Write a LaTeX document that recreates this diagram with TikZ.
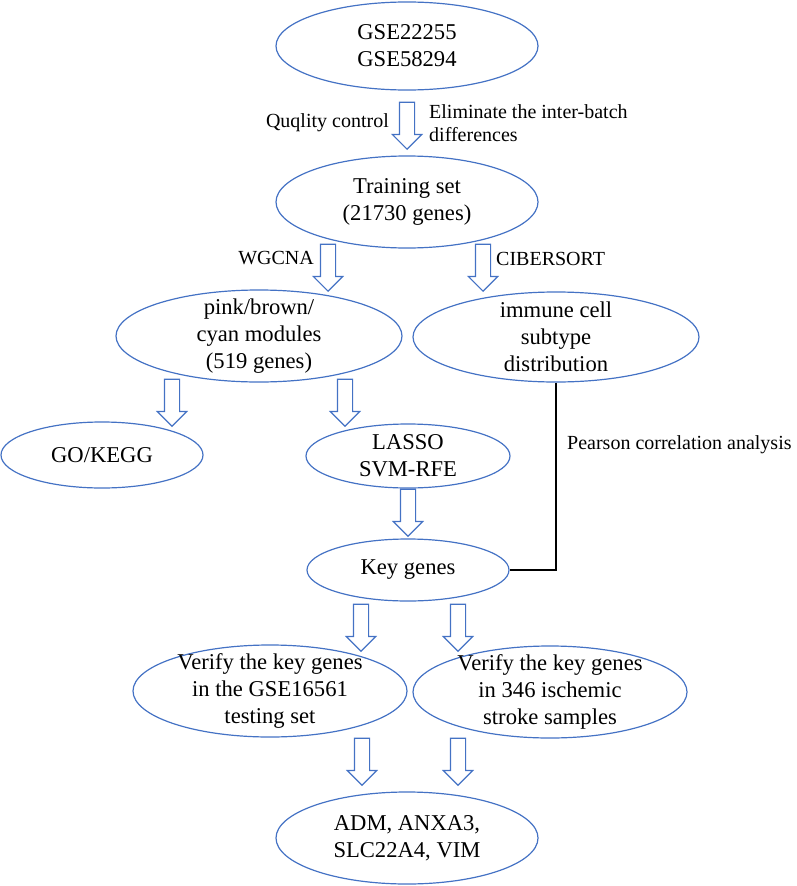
\documentclass[tikz,border=0pt]{standalone}
\usepackage{fontspec}
\setmainfont{Liberation Serif}
\usetikzlibrary{
	shapes.geometric,
	shapes.arrows
}
\definecolor{FlowBlue}{RGB}{68,114,196}

\tikzset{
	stage/.style={ellipse, draw=FlowBlue, line width=1.2pt, inner sep=-20pt, align=center,
		font=\fontsize{22.6pt}{27pt}\selectfont},
	downarrow/.style={single arrow, draw=FlowBlue, line width=1.2pt, rotate=-90, anchor=tip,
		minimum height=47pt, inner xsep=0pt, inner ysep=7pt, single arrow head extend=7pt},
	steplabel/.style={inner sep=0pt, font=\fontsize{20pt}{23pt}\selectfont}
}

\begin{document}
\begin{tikzpicture}[x=1pt, y=-1pt]
			\useasboundingbox (0,0) rectangle (796,886);
			% ellipses
			\node[stage, minimum width=262pt, minimum height=88pt] (gse) at (407,46) {GSE22255\\GSE58294};
			\node[stage, minimum width=262pt, minimum height=92pt] (train) at (407,202) {Training set\\(21730 genes)};
			\node[stage, minimum width=286pt, minimum height=92pt] (modules) at (259,336) {pink/brown/\\cyan modules\\(519 genes)};
			\node[stage, minimum width=286pt, minimum height=90pt] (immune) at (556,337) {immune cell\\subtype\\distribution};
			\node[stage, minimum width=202pt, minimum height=66pt] (gokegg) at (102,455) {GO/KEGG};
			\node[stage, minimum width=204pt, minimum height=64pt] (lasso) at (408,456) {LASSO\\SVM-RFE};
			\node[stage, minimum width=202pt, minimum height=62pt] (key) at (408,570) {Key genes};
			\node[stage, minimum width=274pt, minimum height=92pt] (vtest) at (270,691) {Verify the key genes\\in the GSE16561\\testing set};
			\node[stage, minimum width=274pt, minimum height=92pt] (vstroke) at (550,692) {Verify the key genes\\in 346 ischemic\\stroke samples};
			\node[stage, minimum width=262pt, minimum height=92pt] (final) at (407,838) {ADM, ANXA3,\\SLC22A4, VIM};
			% block arrows
			\node[downarrow] (a1) at (407,150) {};
			\node[downarrow] (a2) at (328,292) {};
			\node[downarrow] (a3) at (483,292) {};
			\node[downarrow] (a4) at (172,427) {};
			\node[downarrow] (a5) at (345,427) {};
			\node[downarrow] (a6) at (408,537) {};
			\node[downarrow] (a7) at (361,652) {};
			\node[downarrow] (a8) at (458,652) {};
			\node[downarrow] (a9) at (362,786) {};
			\node[downarrow] (a10) at (458,786) {};
			% labels
			\node[steplabel, anchor=east] (qc) at (389,123) {Quqlity control};
			\node[steplabel, anchor=west, align=left] (batch) at (429,123.5) {Eliminate the inter-batch\\differences};
			\node[steplabel, anchor=east] (wgcna) at (314,258.5) {WGCNA};
			\node[steplabel, anchor=west] (cibersort) at (496,258.5) {CIBERSORT};
			\node[steplabel, anchor=west] (pearson) at (567,445) {Pearson correlation analysis};
			% correlation link
			\draw[line width=1.8pt, black] (immune.south) |- (key.east);
		\end{tikzpicture}
\end{document}
